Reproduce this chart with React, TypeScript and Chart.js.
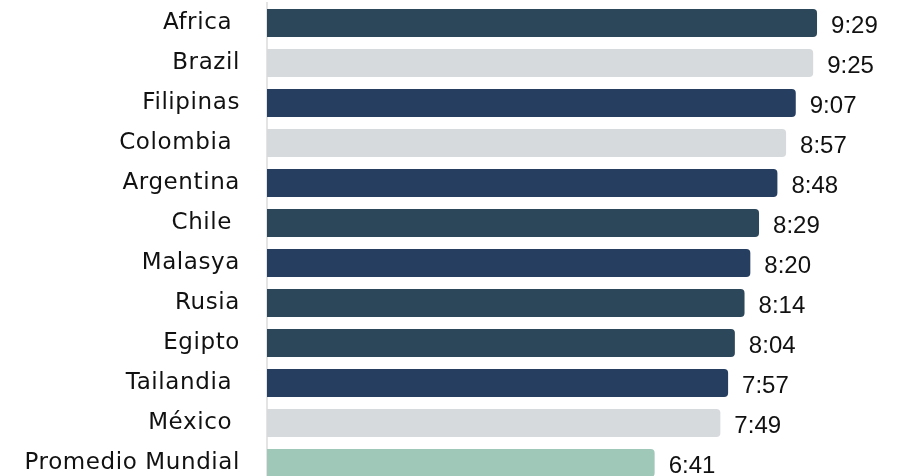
import React, { useEffect, useRef } from "react";
import { Chart, registerables } from "chart.js";

Chart.register(...registerables);

// Daily time spent online (h:mm), by country
const countries = [
  "Africa ",
  "Brazil",
  "Filipinas",
  "Colombia ",
  "Argentina",
  "Chile ",
  "Malasya",
  "Rusia",
  "Egipto",
  "Tailandia ",
  "México ",
  "Promedio Mundial",
];

const times = ["9:29", "9:25", "9:07", "8:57", "8:48", "8:29", "8:20", "8:14", "8:04", "7:57", "7:49", "6:41"];

const TEAL = "#2c475a";
const NAVY = "#263f60";
const GRAY = "#d7dadd";
const GREEN = "#9fc8b9";

const barColors = [TEAL, GRAY, NAVY, GRAY, NAVY, TEAL, NAVY, TEAL, TEAL, NAVY, GRAY, GREEN];

const toMinutes = (t: string) => {
  const [h, m] = t.split(":").map(Number);
  return h * 60 + m;
};

const minutes = times.map(toMinutes);

// Slightly wider tracking for the category labels
const labelTracking = {
  id: "labelTracking",
  beforeDraw(chart: any) {
    chart.ctx.letterSpacing = "0.6px";
  },
};

const valueLabels = {
  id: "valueLabels",
  afterDatasetsDraw(chart: any) {
    const ctx = chart.ctx;
    const meta = chart.getDatasetMeta(0);
    ctx.save();
    ctx.letterSpacing = "0px";
    ctx.font = '24px "Liberation Sans", Arial, sans-serif';
    ctx.fillStyle = "#111111";
    ctx.textAlign = "left";
    ctx.textBaseline = "alphabetic";
    meta.data.forEach((bar: any, i: number) => {
      ctx.fillText(times[i], bar.x + 14, bar.y + 10);
    });
    ctx.restore();
  },
  afterDraw(chart: any) {
    chart.ctx.letterSpacing = "0px";
  },
};

export default function App() {
  const ref = useRef<HTMLCanvasElement | null>(null);

  useEffect(() => {
    if (!ref.current) return;
    const chart = new Chart(ref.current, {
      type: "bar",
      data: {
        labels: countries,
        datasets: [
          {
            data: minutes,
            backgroundColor: barColors,
            borderRadius: 4,
            borderSkipped: "start",
            barPercentage: 0.7,
            categoryPercentage: 1,
          },
        ],
      },
      options: {
        indexAxis: "y",
        responsive: false,
        maintainAspectRatio: false,
        animation: false,
        layout: { padding: { top: 3, bottom: 3, left: 0, right: 0 } },
        plugins: {
          legend: { display: false },
          tooltip: { enabled: false },
        },
        scales: {
          x: {
            display: false,
            min: 0,
            max: 660,
          },
          y: {
            grid: { display: false, drawTicks: false },
            border: { display: true, color: "#e4e4e4", width: 2 },
            ticks: {
              padding: 27,
              color: "#111111",
              font: { family: '"DejaVu Sans", sans-serif', size: 23 },
            },
            afterFit(scale: any) {
              scale.width = 267;
              scale.paddingTop = 0;
              scale.paddingBottom = 0;
            },
          },
        },
      },
      plugins: [labelTracking, valueLabels],
    });
    return () => chart.destroy();
  }, []);

  return (
    <div
      style={{
        position: "fixed",
        top: 0,
        left: 0,
        width: 905,
        height: 476,
        overflow: "hidden",
        background: "#ffffff",
      }}
    >
      <canvas ref={ref} width={905} height={486} style={{ display: "block", width: 905, height: 486 }} />
    </div>
  );
}
